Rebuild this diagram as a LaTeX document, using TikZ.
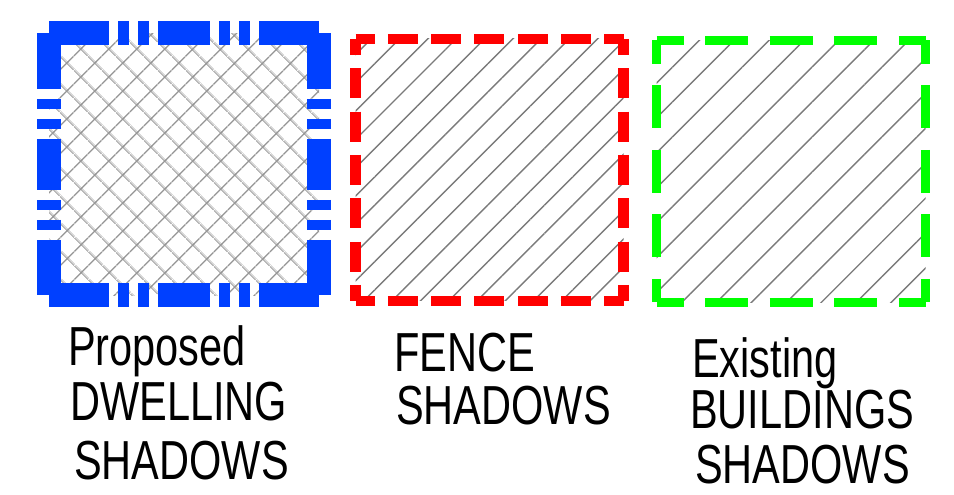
\documentclass[tikz,border=0pt]{standalone}
\usepackage{fontspec}
\usepackage{xcolor}
\newfontfamily\legendfont[FakeStretch=0.755]{Liberation Sans}
\usetikzlibrary{patterns.meta}

\definecolor{dwellblue}{HTML}{0040FF}
\definecolor{fencered}{HTML}{FF0000}
\definecolor{existgreen}{HTML}{00FF00}
\definecolor{hatchgray}{HTML}{7A7A7A}
\definecolor{crossgray}{HTML}{959595}

\tikzset{
  legendtext/.style={anchor=base west, inner sep=0pt, text=black,
    font=\legendfont\fontsize{55}{57}\selectfont},
  dwellside/.style={line width=24pt, dwellblue},
  dwellh/.style={dash pattern=on 60pt off 9pt on 11pt off 9pt on 11pt off 9pt on 52pt off 9pt on 11pt off 9pt on 11pt off 9pt on 60pt off 20pt},
  dwellv/.style={dash pattern=on 55.5pt off 10pt on 10pt off 10pt on 10pt off 10pt on 51pt off 10pt on 10pt off 10pt on 10pt off 10pt on 55.5pt off 20pt},
  fenceside/.style={line width=10.5pt, fencered, dash pattern=on 30pt off 13.33pt},
  existside/.style={line width=9pt, existgreen, dash pattern=on 43pt off 21.5pt},
}

\begin{document}
\begin{tikzpicture}[x=1pt,y=1pt]
  \useasboundingbox (0,0) rectangle (954,495);

  % proposed dwelling
  \coordinate (dwA) at (49,461.5);
  \coordinate (dwB) at (319,461.5);
  \coordinate (dwC) at (319,199.5);
  \coordinate (dwD) at (49,199.5);
  \fill[pattern={Hatch[angle=45,distance=19.5pt,line width=1.5pt]}, pattern color=crossgray] (dwA) rectangle (dwC);
  \draw[dwellside, dwellh] (dwA) -- (dwB);
  \draw[dwellside, dwellh] (dwD) -- (dwC);
  \draw[dwellside, dwellv] (dwA) -- (dwD);
  \draw[dwellside, dwellv] (dwB) -- (dwC);

  % fence
  \coordinate (feA) at (355.5,456);
  \coordinate (feB) at (623.5,456);
  \coordinate (feC) at (623.5,194);
  \coordinate (feD) at (355.5,194);
  \fill[pattern={Lines[angle=45,distance=20pt,line width=1.4pt]}, pattern color=hatchgray] (feA) rectangle (feC);
  \draw[fenceside, dash phase=11pt] (feA) -- (feB);
  \draw[fenceside, dash phase=11pt] (feD) -- (feC);
  \draw[fenceside, dash phase=14pt] (feA) -- (feD);
  \draw[fenceside, dash phase=14pt] (feB) -- (feC);

  % existing buildings
  \coordinate (exA) at (656.5,454.5);
  \coordinate (exB) at (925.5,454.5);
  \coordinate (exC) at (925.5,192.5);
  \coordinate (exD) at (656.5,192.5);
  \fill[pattern={Lines[angle=45,distance=24.7pt,line width=1.4pt]}, pattern color=hatchgray] (exA) rectangle (exC);
  \draw[existside, dash phase=16pt] (exA) -- (exB);
  \draw[existside, dash phase=16pt] (exD) -- (exC);
  \draw[existside, dash phase=19.5pt] (exA) -- (exD);
  \draw[existside, dash phase=19.5pt] (exB) -- (exC);

  % labels
  \node[legendtext] (prop1) at (68,129) {Proposed};
  \node[legendtext] (prop2) at (70,74) {DWELLING};
  \node[legendtext] (prop3) at (74,15) {SHADOWS};
  \node[legendtext] (fence1) at (394,123) {FENCE};
  \node[legendtext] (fence2) at (396,70) {SHADOWS};
  \node[legendtext] (exist1) at (692,117) {Existing};
  \node[legendtext] (exist2) at (690,66) {BUILDINGS};
  \node[legendtext] (exist3) at (695,11) {SHADOWS};
\end{tikzpicture}
\end{document}
